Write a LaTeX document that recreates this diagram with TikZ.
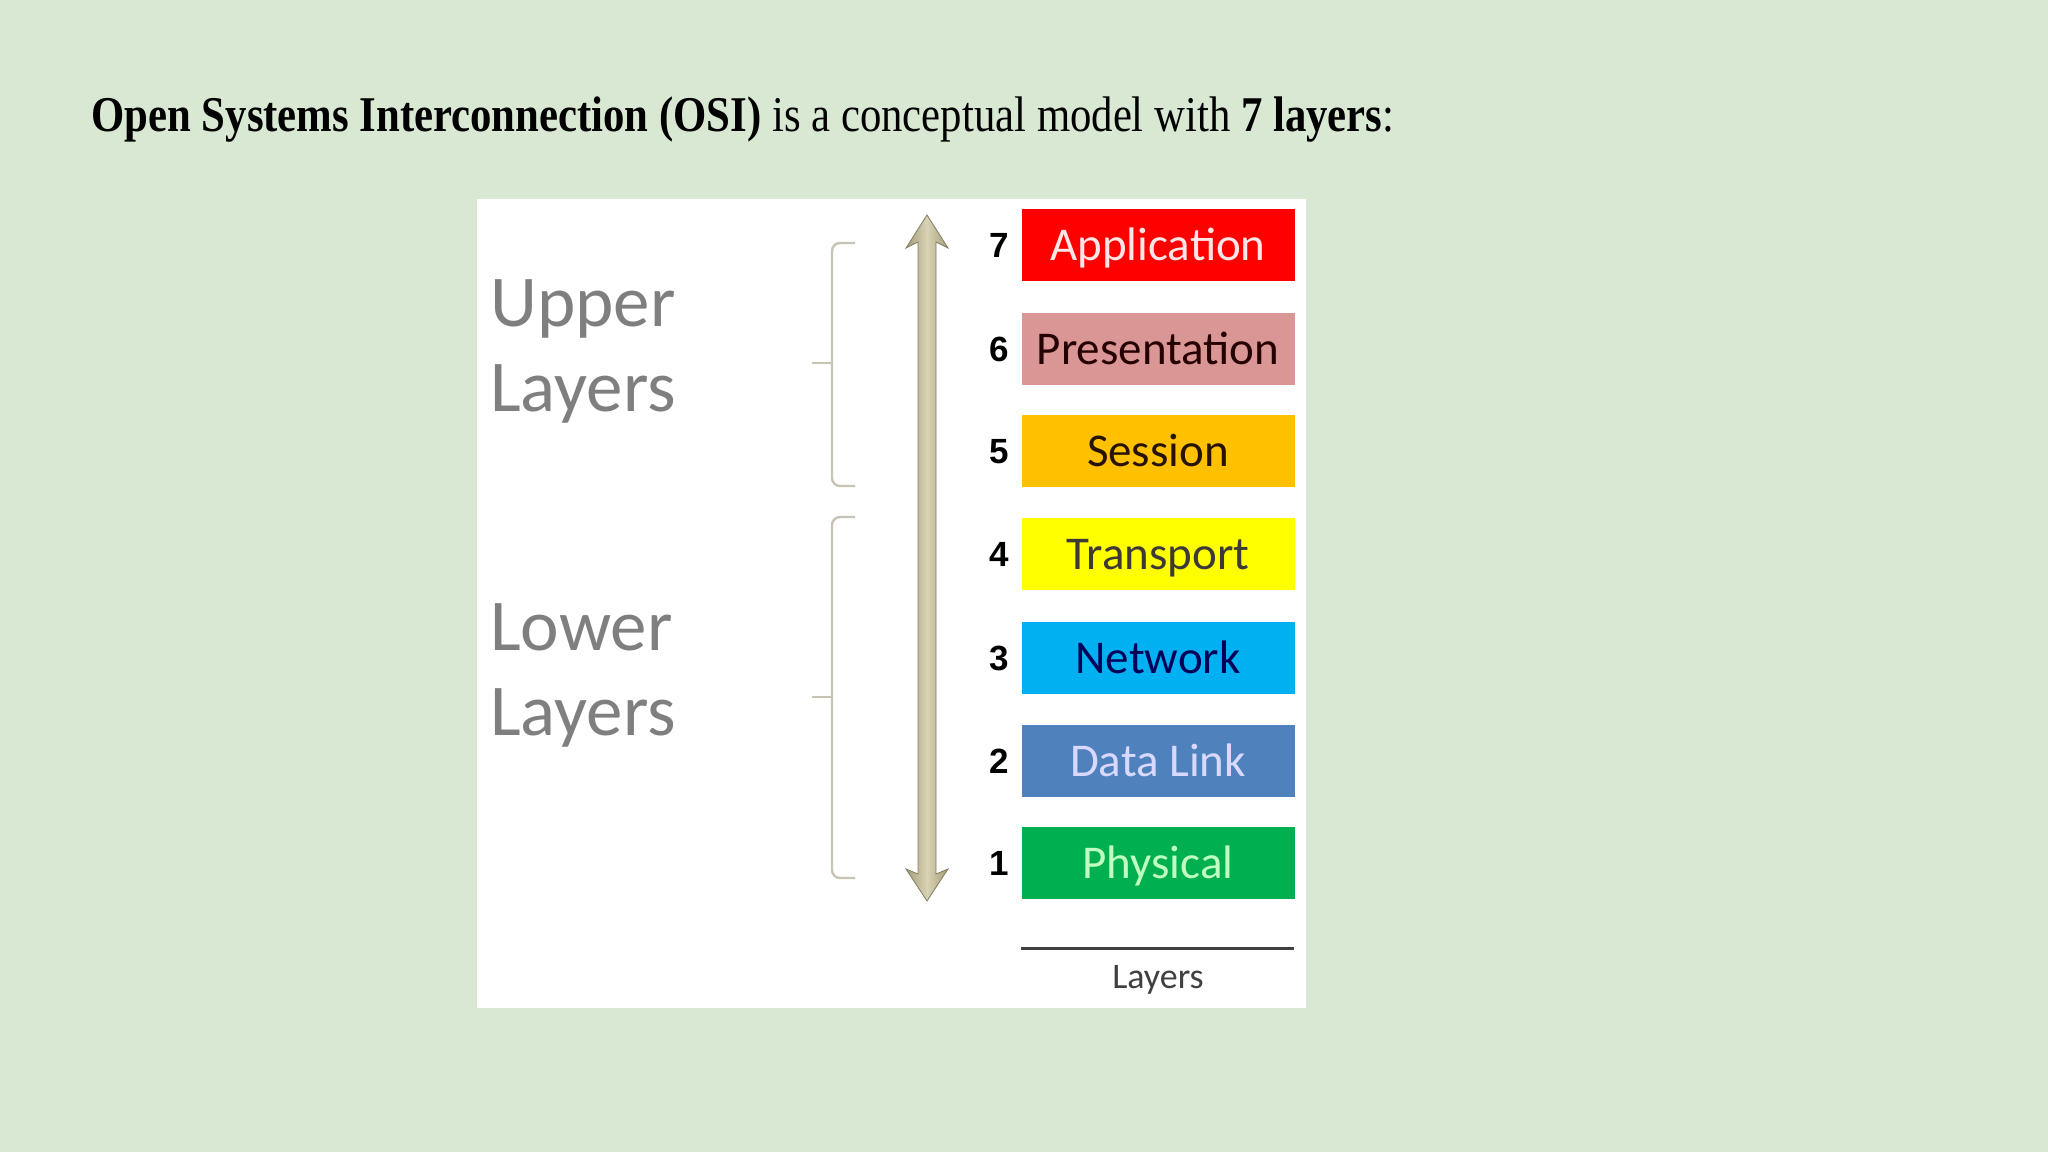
\documentclass[tikz,border=0pt]{standalone}
\usepackage{fontspec}
\setmainfont{Liberation Serif}
\newfontfamily\calib{Carlito}
\newfontfamily\arialf{Liberation Sans}
\definecolor{bg}{HTML}{D9E8D3}
\definecolor{upgray}{HTML}{7F7F7F}
\definecolor{brk}{HTML}{C8C4B4}
\definecolor{armid}{HTML}{D9D3B6}
\definecolor{arside}{HTML}{A39C78}
\definecolor{cApp}{HTML}{FF0000}
\definecolor{cPre}{HTML}{D99694}
\definecolor{cSes}{HTML}{FFC000}
\definecolor{cTra}{HTML}{FFFF00}
\definecolor{cNet}{HTML}{00B0F0}
\definecolor{cDat}{HTML}{4F81BD}
\definecolor{cPhy}{HTML}{00B050}
\tikzset{
  layerbox/.style={minimum width=136.5pt, minimum height=36pt, inner sep=0pt,
    font=\calib\fontsize{23.5}{26}\selectfont, text height=15.1pt, text depth=0pt},
  numlbl/.style={font=\arialf\bfseries\fontsize{17.5}{19}\selectfont, inner sep=0pt,
    text height=12.5pt, text depth=0pt},
  grouplbl/.style={font=\calib\fontsize{36.5}{42.5}\selectfont, text=upgray, align=left, inner sep=0pt},
  bracket/.style={draw=brk, line width=1.2pt, rounded corners=4pt}
}
\begin{document}
\begin{tikzpicture}[x=0.5pt,y=-0.5pt]
\path[fill=bg,use as bounding box] (0,0) rectangle (2048,1152);
% title
\node[anchor=base west, inner sep=0pt, font=\fontsize{25}{30}\selectfont] (title) at (91,131)
  {\scalebox{0.855}[1]{\textbf{Open Systems Interconnection (OSI)} is a conceptual model with \textbf{7 layers}:}};
% panel
\path[fill=white] (477,199) rectangle (1306,1008);
% layer boxes
\foreach \n/\txt/\fc/\tc/\y in {
  7/Application/cApp/{white!90!red}/245,
  6/Presentation/cPre/{black!85!red}/349,
  5/Session/cSes/{black!85!orange}/451,
  4/Transport/cTra/{black!88!yellow}/554,
  3/Network/cNet/{blue!35!black}/658,
  2/Data Link/cDat/{white!85!blue}/761,
  1/Physical/cPhy/{white!75!green}/863}{
  \node[layerbox, fill=\fc, text=\tc] (L\n) at (1158,\y) {\txt};
  \node[numlbl, anchor=east] (N\n) at ([xshift=-6pt]L\n.west) {\n};
}
% arrow
\coordinate (atop) at (927,215);
\coordinate (abot) at (927,901);
\path[left color=arside, right color=arside, middle color=armid, draw=arside!80!black, line width=0.4pt]
  (atop) -- ++(21,33) -- ++(-12,-6) -- (936,874) -- ++(12,-5) -- (abot) -- ++(-21,-32) -- ++(12,5)
  -- (918,242) -- ++(-12,6) -- cycle;
% brackets
\draw[bracket] (855,243) -- (832,243) -- (832,363) -- (832,486) -- (855,486);
\draw[bracket] (832,363) -- (812,363);
\draw[bracket] (855,517) -- (832,517) -- (832,697) -- (832,878) -- (855,878);
\draw[bracket] (832,697) -- (812,697);
% group labels
\node[grouplbl] (upper) at (583,351) {Upper\\Layers};
\node[grouplbl] (lower) at (583,675) {Lower\\Layers};
% bottom axis
\coordinate (ulA) at (1021,948);
\coordinate (ulB) at (1294,948);
\draw[line width=1.5pt, black!75] (ulA) -- (ulB);
\node[font=\calib\fontsize{18}{20}\selectfont, text=black!75, inner sep=0pt] (axis) at (1158,980) {Layers};
\end{tikzpicture}
\end{document}
